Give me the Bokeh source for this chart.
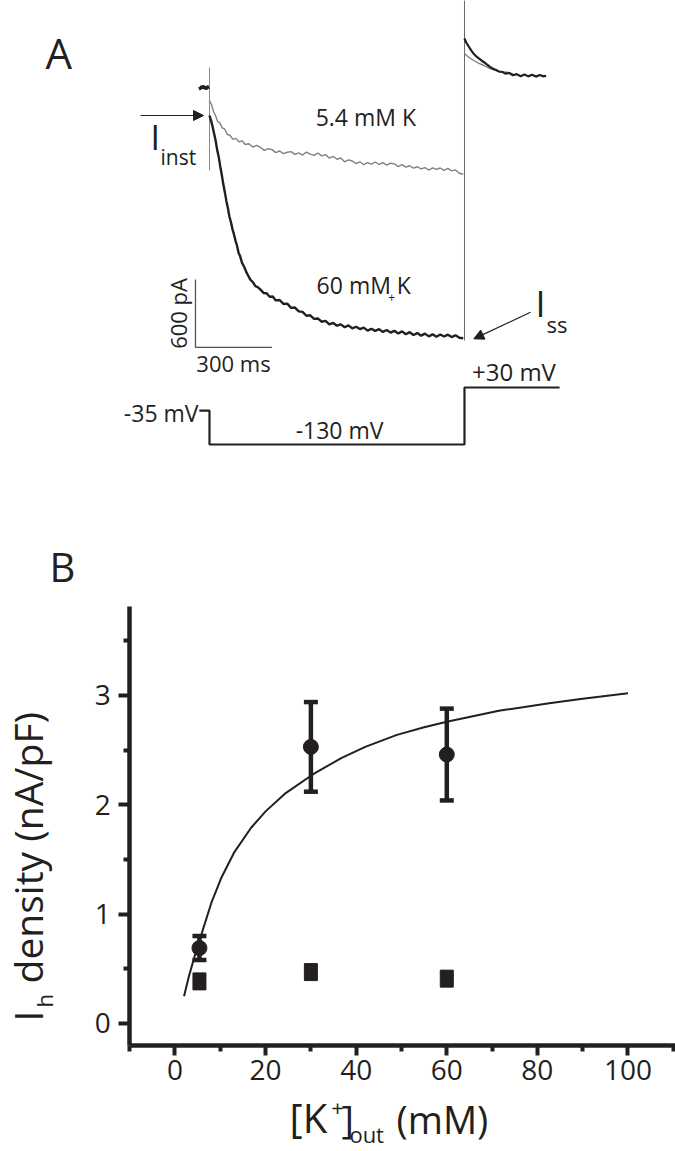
from math import pi
from bokeh.plotting import figure
from bokeh.models import (Range1d, Label, Arrow, NormalHead, Whisker, TeeHead,
                          ColumnDataSource, FixedTicker, LinearAxis)
from bokeh.embed import file_html
from bokeh.resources import INLINE

FONT = "Open Sans"
INK = "#231f20"
GREY = "#808080"

# ---------------- Panel A data (time in ms, current in pA, voltage in mV) -------------
pre_t = [-40, -36, -32, -28, -24, -20, -16, -12, -8, -4, -1]
pre_i = [5, -20, 15, -10, 20, -15, 10, -20, 15, -5, 0]

k54_t = [0, 8, 16, 24, 32, 40, 50, 60, 70, 80, 92, 104, 116, 128, 140, 155, 170, 185,
         200, 215, 230, 245, 260, 275, 290, 305, 320, 335, 350, 365, 380, 395, 410, 425,
         440, 455, 470, 485, 500, 515, 530, 545, 560, 575, 590, 605, 620, 635, 650, 665,
         680, 695, 710, 725, 740, 755, 770, 785, 800, 815, 830, 845, 860, 875, 890, 905,
         920, 935, 950, 965, 980, 995]
k54_i = [-115, -152, -214, -249, -301, -310, -356, -368, -415, -421, -458, -449, -480,
         -470, -503, -496, -525, -511, -529, -555, -540, -548, -574, -560, -583, -571,
         -566, -590, -577, -596, -570, -588, -599, -578, -603, -592, -624, -607, -633,
         -622, -655, -639, -648, -672, -655, -681, -662, -676, -657, -679, -662, -685,
         -668, -674, -697, -680, -703, -690, -712, -699, -718, -706, -728, -709, -723,
         -710, -731, -713, -735, -727, -756, -765]

k60_t = [0, 6, 12, 18, 24, 30, 36, 42, 48, 54, 60, 66, 72, 78, 84, 90, 96, 102, 108,
         114, 120, 128, 136, 144, 152, 160, 170, 180, 190, 200, 212, 224, 236, 248, 260,
         275, 290, 305, 320, 335, 350, 365, 380, 395, 410, 425, 440, 455, 470, 485, 500,
         515, 530, 545, 560, 575, 590, 605, 620, 635, 650, 665, 680, 695, 710, 725, 740,
         755, 770, 785, 800, 815, 830, 845, 860, 875, 890, 905, 920, 935, 950, 965, 980,
         995]
k60_i = [-247, -290, -345, -405, -468, -548, -610, -694, -768, -852, -921, -998, -1062,
         -1138, -1186, -1249, -1296, -1350, -1396, -1458, -1487, -1549, -1581, -1626,
         -1660, -1695, -1716, -1752, -1762, -1783, -1812, -1815, -1846, -1843, -1878,
         -1874, -1909, -1906, -1944, -1941, -1975, -1979, -2013, -2009, -2041, -2037,
         -2066, -2059, -2090, -2077, -2101, -2089, -2115, -2098, -2125, -2110, -2131,
         -2118, -2144, -2128, -2147, -2131, -2156, -2139, -2162, -2146, -2170, -2151,
         -2176, -2158, -2183, -2166, -2189, -2171, -2195, -2177, -2199, -2178, -2196,
         -2180, -2201, -2185, -2207, -2212]

tail60_t = [1000, 1006, 1013, 1020, 1027, 1035, 1043, 1050, 1060, 1070, 1080, 1090, 1100,
            1112, 1124, 1136, 1148, 1160, 1175, 1190, 1205, 1220, 1235, 1250, 1265, 1280,
            1295, 1310, 1320]
tail60_i = [432, 400, 375, 350, 326, 300, 282, 267, 250, 232, 218, 200, 182, 165, 155,
            140, 138, 122, 128, 108, 118, 100, 115, 98, 112, 96, 110, 98, 104]
tail54_t = [1000, 1008, 1020, 1037, 1055, 1076, 1095, 1115, 1140, 1167, 1190]
tail54_i = [300, 282, 262, 238, 215, 194, 172, 156, 140, 135, 120]

# capacitive transients (vertical artefacts at the voltage steps)
cap_on_t = [0, 0]
cap_on_i = [176, -732]
cap_off_t = [1000, 1000]
cap_off_i = [770, -2231]

# voltage protocol
prot_t = [-40, 0, 0, 1000, 1000, 1373]
prot_v = [-35, -35, -130, -130, 30, 30]

# scale bars
SCALE_T0, SCALE_I0 = -55, -2293
SCALE_T_LEN, SCALE_I_LEN = 300, 600

# ---------------- Panel B data -----------------------------------------------------
k_out = [5.4, 30, 60]
ih_mean = [0.69, 2.53, 2.46]
ih_sem = [0.11, 0.41, 0.42]
ih_blocked = [0.385, 0.47, 0.41]

fit_x = [2, 3, 4.3, 5.8, 8, 10.2, 13, 16.8, 20, 24.2, 30.5, 36.8, 42, 49, 55, 60, 71.5,
         82.6, 90, 100]
fit_y = [0.25, 0.42, 0.61, 0.81, 1.10, 1.33, 1.56, 1.79, 1.94, 2.10, 2.28, 2.43, 2.53,
         2.64, 2.71, 2.76, 2.86, 2.93, 2.97, 3.02]

x_ticks = [0, 20, 40, 60, 80, 100]
x_minor = [-10, 10, 30, 50, 70, 90, 110]
y_ticks = [0, 1, 2, 3]
y_minor = [0.5, 1.5, 2.5, 3.5]
X_AXIS_BOUNDS = (-10, 110.49)
Y_AXIS_BOUNDS = (-0.201, 3.814)

# ================= one canvas holding both panels =================
p = figure(width=675, height=1151, x_range=Range1d(-38.52, 110.49),
           y_range=Range1d(-1.171, 9.357), output_backend="svg",
           toolbar_location=None, min_border=0, x_axis_location=None,
           y_axis_location=None)
p.extra_x_ranges = {"t": Range1d(-819.6, 1827.5)}
p.extra_y_ranges = {"pA": Range1d(-9384.5, 767.3), "mv": Range1d(-2114.6, 1116.3)}
p.outline_line_color = None
p.grid.visible = False

A = dict(x_range_name="t", y_range_name="pA")

# ---- Panel A traces
p.line(cap_on_t, cap_on_i, line_color="#8a8a8a", line_width=1, **A)
p.line(cap_off_t, cap_off_i, line_color="#6a6a6a", line_width=1, **A)
p.line(pre_t, pre_i, line_color=INK, line_width=2.2, **A)
p.line(k54_t, k54_i, line_color=GREY, line_width=1.4, **A)
p.line(tail54_t, tail54_i, line_color=GREY, line_width=1.4, **A)
p.line(k60_t, k60_i, line_color=INK, line_width=2.4, **A)
p.line(tail60_t, tail60_i, line_color=INK, line_width=2.2, **A)

p.line([SCALE_T0, SCALE_T0, SCALE_T0 + SCALE_T_LEN],
       [SCALE_I0 + SCALE_I_LEN, SCALE_I0, SCALE_I0], line_color="#555555",
       line_width=1.3, **A)

p.line(prot_t, prot_v, x_range_name="t", y_range_name="mv", line_color=INK,
       line_width=2.2)


def lab(x, y, text, size, align="left", angle=0.0, **kw):
    p.add_layout(Label(x=x, y=y, text=text, text_font=FONT, text_font_size=size,
                       text_color=INK, text_align=align, text_baseline="middle",
                       angle=angle, **kw))


lab(-643, 312, "A", "42px", **A)
lab(613, -256, "5.4 mM K", "23px", align="center", **A)
lab(605, -1738, "60 mM K", "23px", align="center", **A)
lab(714, -1852, "+", "12px", align="center", **A)
lab(-231, -439, "I", "34px", **A)
lab(-192, -616, "inst", "21px", **A)
lab(1278, -1905, "I", "36px", **A)
lab(1322, -2085, "ss", "22px", **A)
lab(-121.6, -1993, "600 pA", "22px", align="center", angle=pi / 2, **A)
lab(94, -2429, "300 ms", "22px", align="center", **A)
lab(-43, -2867, "-35 mV", "23px", align="right", **A)
lab(510, -3017, "-130 mV", "23px", align="center", **A)
lab(1194, -2501, "+30 mV", "24px", align="center", **A)

p.add_layout(Arrow(end=NormalHead(size=10, fill_color=INK, line_color=INK, line_width=1),
                   x_start=-270.6, y_start=-247, x_end=-23.5, y_end=-247,
                   line_color=INK, line_width=1.2, **A))
p.add_layout(Arrow(end=NormalHead(size=10, fill_color=INK, line_color=INK, line_width=1),
                   x_start=1259, y_start=-1982, x_end=1036.5, y_end=-2217,
                   line_color=INK, line_width=1.2, **A))

# ---- Panel B axes (fixed inside the canvas)
xax = LinearAxis(fixed_location=Y_AXIS_BOUNDS[0], bounds=X_AXIS_BOUNDS,
                 ticker=FixedTicker(ticks=x_ticks, minor_ticks=x_minor))
yax = LinearAxis(fixed_location=X_AXIS_BOUNDS[0], bounds=Y_AXIS_BOUNDS,
                 ticker=FixedTicker(ticks=y_ticks, minor_ticks=y_minor))
for ax in (xax, yax):
    ax.axis_line_width = 4.5
    ax.axis_line_color = INK
    ax.major_tick_line_width = 4
    ax.minor_tick_line_width = 4
    ax.major_tick_line_color = INK
    ax.minor_tick_line_color = INK
    ax.major_tick_in = 0
    ax.minor_tick_in = 0
    ax.major_label_text_font = FONT
    ax.major_label_text_font_size = "28px"
    ax.major_label_text_color = INK
xax.major_tick_out = 10
xax.minor_tick_out = 6
yax.major_tick_out = 11
yax.minor_tick_out = 6
xax.major_label_standoff = 5
yax.major_label_standoff = 8
p.add_layout(xax, "below")
p.add_layout(yax, "left")

# ---- Panel B data marks
src = ColumnDataSource(dict(x=k_out, y=ih_mean,
                            upper=[m + s for m, s in zip(ih_mean, ih_sem)],
                            lower=[m - s for m, s in zip(ih_mean, ih_sem)]))
p.add_layout(Whisker(source=src, base="x", upper="upper", lower="lower",
                     line_color=INK, line_width=4.5,
                     upper_head=TeeHead(size=14, line_width=4.5, line_color=INK),
                     lower_head=TeeHead(size=14, line_width=4.5, line_color=INK)))
p.line(fit_x, fit_y, line_color=INK, line_width=2)
p.scatter("x", "y", source=src, marker="circle", size=15, color=INK)
p.rect(k_out, ih_blocked, width=13, height=17, width_units="screen",
       height_units="screen", color=INK)

lab(-27.7, 4.177, "B", "40px")
# y-axis title pieces (rotated)
lab(-32.56, 0.018, "I", "39px", angle=pi / 2)
lab(-28.9, 0.146, "h", "22px", angle=pi / 2)
lab(-32.56, 0.366, "density (nA/pF)", "39px", angle=pi / 2)
# x-axis title pieces
lab(25.3, -0.860, "[K", "40px")
lab(35.9, -0.773, "+", "22px", align="center")
lab(36.75, -0.870, "]", "38px")
lab(38.5, -1.015, "out", "22px")
lab(48.9, -0.870, "(mM)", "38px")

open("out.html", "w").write(file_html(p, INLINE))
